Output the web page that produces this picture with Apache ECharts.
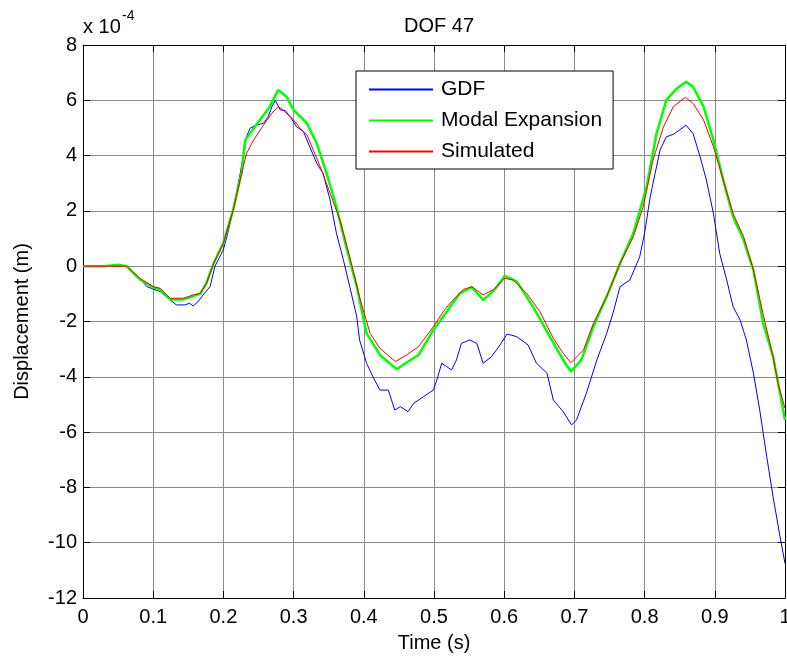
<!DOCTYPE html>
<html>
<head>
<meta charset="utf-8">
<script src="https://cdn.jsdelivr.net/npm/echarts@6/dist/echarts.min.js"></script>
<style>
  html, body { margin: 0; padding: 0; background: #fff; overflow: hidden; }
  #chart { width: 787px; height: 661px; }
</style>
</head>
<body>
<div id="chart"></div>
<script>
// Displacement of DOF 47 (units of 1e-4 m) against time (s)
const gdf = [
  [0, 0], [0.03, 0], [0.062, 0], [0.081, -0.44], [0.091, -0.74], [0.11, -0.92],
  [0.124, -1.22], [0.133, -1.4], [0.145, -1.4], [0.152, -1.34], [0.157, -1.44],
  [0.164, -1.28], [0.171, -1.04], [0.181, -0.74], [0.188, 0], [0.2, 0.6],
  [0.205, 1.07], [0.214, 2.03], [0.224, 3.36], [0.233, 4.68], [0.238, 4.99],
  [0.247, 5.1], [0.257, 5.17], [0.264, 5.41], [0.269, 5.77], [0.274, 5.99],
  [0.281, 5.65], [0.288, 5.63], [0.295, 5.41], [0.304, 5.05], [0.314, 4.87],
  [0.323, 4.32], [0.333, 3.72], [0.342, 3.36], [0.352, 2.39], [0.361, 1.19],
  [0.371, 0.22], [0.38, -0.74], [0.39, -1.83], [0.394, -2.67], [0.404, -3.51],
  [0.413, -4.0], [0.423, -4.48], [0.435, -4.48], [0.444, -5.2], [0.452, -5.08],
  [0.463, -5.26], [0.471, -4.96], [0.485, -4.72], [0.499, -4.48], [0.504, -4.12],
  [0.511, -3.51], [0.518, -3.63], [0.525, -3.75], [0.532, -3.39], [0.539, -2.79],
  [0.551, -2.67], [0.561, -2.79], [0.57, -3.51], [0.582, -3.27], [0.594, -2.85],
  [0.604, -2.45], [0.618, -2.55], [0.634, -2.85], [0.646, -3.51], [0.661, -3.87],
  [0.67, -4.84], [0.684, -5.26], [0.696, -5.74], [0.703, -5.56], [0.717, -4.6],
  [0.732, -3.39], [0.746, -2.43], [0.755, -1.7], [0.765, -0.74], [0.779, -0.5],
  [0.793, 0.34], [0.8, 1.2], [0.808, 2.51], [0.815, 3.36], [0.822, 4.2],
  [0.831, 4.68], [0.841, 4.77], [0.85, 4.93], [0.859, 5.1], [0.869, 4.8],
  [0.879, 3.96], [0.888, 3.12], [0.898, 1.91], [0.907, 0.46], [0.917, -0.5],
  [0.926, -1.46], [0.936, -1.94], [0.945, -2.67], [0.955, -3.87], [0.964, -5.2],
  [0.974, -6.89], [0.983, -8.34], [0.993, -9.79], [1.0, -10.75]
];

const modalExpansion = [
  [0, 0], [0.03, 0], [0.05, 0.05], [0.062, 0], [0.081, -0.48], [0.1, -0.76],
  [0.11, -0.85], [0.124, -1.2], [0.143, -1.2], [0.157, -1.08], [0.167, -1.0],
  [0.176, -0.6], [0.186, 0.1], [0.2, 0.85], [0.214, 2.05], [0.226, 3.4],
  [0.231, 4.56], [0.252, 5.29], [0.266, 5.77], [0.278, 6.37], [0.29, 6.13],
  [0.3, 5.65], [0.319, 5.17], [0.333, 4.44], [0.347, 3.36], [0.361, 2.15],
  [0.375, 0.7], [0.39, -0.74], [0.404, -2.43], [0.423, -3.21], [0.447, -3.73],
  [0.46, -3.5], [0.478, -3.21], [0.499, -2.31], [0.518, -1.65], [0.537, -0.98],
  [0.554, -0.76], [0.57, -1.22], [0.584, -0.92], [0.601, -0.35], [0.618, -0.56],
  [0.641, -1.46], [0.665, -2.55], [0.684, -3.39], [0.695, -3.81], [0.71, -3.39],
  [0.727, -2.19], [0.746, -1.1], [0.765, 0.1], [0.784, 1.19], [0.803, 2.88],
  [0.817, 4.8], [0.831, 6.01], [0.846, 6.43], [0.859, 6.67], [0.869, 6.49],
  [0.884, 5.77], [0.898, 4.56], [0.912, 3.12], [0.926, 1.79], [0.941, 0.95],
  [0.955, -0.14], [0.969, -2.07], [0.983, -3.27], [0.993, -4.6], [1.0, -5.56]
];

const simulated = [
  [0, 0], [0.03, 0], [0.062, 0], [0.081, -0.44], [0.1, -0.74], [0.11, -0.8],
  [0.124, -1.16], [0.143, -1.16], [0.157, -1.04], [0.167, -0.98], [0.176, -0.62],
  [0.186, 0.1], [0.2, 0.83], [0.214, 2.03], [0.226, 3.36], [0.233, 4.08],
  [0.243, 4.56], [0.257, 5.1], [0.269, 5.53], [0.278, 5.77], [0.285, 5.65],
  [0.3, 5.29], [0.309, 4.99], [0.319, 4.75], [0.328, 4.2], [0.338, 3.6],
  [0.352, 2.64], [0.366, 1.67], [0.38, 0.34], [0.395, -1.22], [0.409, -2.43],
  [0.423, -2.97], [0.445, -3.45], [0.461, -3.21], [0.478, -2.91], [0.499, -2.19],
  [0.513, -1.65], [0.527, -1.22], [0.542, -0.84], [0.554, -0.74], [0.57, -1.04],
  [0.584, -0.86], [0.601, -0.44], [0.613, -0.5], [0.632, -0.98], [0.651, -1.65],
  [0.67, -2.61], [0.684, -3.15], [0.695, -3.49], [0.713, -3.03], [0.727, -2.07],
  [0.746, -1.1], [0.765, 0.1], [0.784, 1.07], [0.798, 2.15], [0.812, 3.84],
  [0.827, 5.05], [0.841, 5.77], [0.858, 6.11], [0.869, 5.89], [0.884, 5.29],
  [0.898, 4.32], [0.912, 3.12], [0.926, 1.91], [0.941, 1.07], [0.955, -0.14],
  [0.969, -1.75], [0.983, -3.27], [0.99, -4.24], [1.0, -5.14]
];

const seriesNames = ['GDF', 'Modal Expansion', 'Simulated'];
const xTicks = [0, 0.1, 0.2, 0.3, 0.4, 0.5, 0.6, 0.7, 0.8, 0.9, 1];
const yTicks = [-12, -10, -8, -6, -4, -2, 0, 2, 4, 6, 8];

const FONT = 'Arial, "Liberation Sans", Helvetica, sans-serif';
const chart = echarts.init(document.getElementById('chart'), null, { renderer: 'canvas', width: 787, height: 661 });

const tickStyle = { show: true, inside: true, length: 7, lineStyle: { color: '#000', width: 1 } };
const lineAxis = { show: true, onZero: false, lineStyle: { color: '#000', width: 1 } };
const gridLines = { show: true, lineStyle: { color: '#8a8a8a', width: 1 } };

chart.setOption({
  animation: false,
  backgroundColor: '#fff',
  title: {
    text: 'DOF 47',
    left: 434, top: 11, textAlign: 'center',
    textStyle: { fontFamily: FONT, fontSize: 20, fontWeight: 'normal', color: '#000' }
  },
  grid: { left: 83, right: 2, top: 45, bottom: 63, containLabel: false, outerBoundsMode: 'none' },
  legend: {
    data: seriesNames,
    orient: 'vertical',
    left: 356, top: 71,
    padding: [8, 11, 7, 13],
    itemGap: 10,
    icon: 'rect',
    itemWidth: 64, itemHeight: 2,
    backgroundColor: '#fff',
    borderColor: '#000', borderWidth: 1,
    textStyle: { fontFamily: FONT, fontSize: 21, lineHeight: 21, color: '#000', padding: [0, 0, 0, 3] }
  },
  graphic: [
    { type: 'text', left: 83, top: 17,
      style: { text: 'x 10', font: '20px ' + FONT, fill: '#000' } },
    { type: 'text', left: 122, top: 9,
      style: { text: '-4', font: '14px ' + FONT, fill: '#000' } }
  ],
  xAxis: [
    {
      type: 'value', position: 'bottom', min: xTicks[0], max: xTicks[xTicks.length - 1], interval: 0.1,
      name: 'Time (s)', nameLocation: 'middle', nameGap: 35,
      nameTextStyle: { fontFamily: FONT, fontSize: 20, color: '#000' },
      axisLine: lineAxis, axisTick: tickStyle,
      axisLabel: { show: true, margin: 9, fontFamily: FONT, fontSize: 20, color: '#000',
        formatter: v => String(Math.round(v * 10) / 10) },
      splitLine: gridLines
    },
    {
      type: 'value', position: 'top', min: xTicks[0], max: xTicks[xTicks.length - 1], interval: 0.1,
      axisLine: lineAxis, axisTick: tickStyle, axisLabel: { show: false }, splitLine: { show: false }
    }
  ],
  yAxis: [
    {
      type: 'value', position: 'left', min: yTicks[0], max: yTicks[yTicks.length - 1], interval: 2,
      name: 'Displacement (m)', nameLocation: 'middle', nameGap: 51,
      nameTextStyle: { fontFamily: FONT, fontSize: 20, color: '#000' },
      axisLine: lineAxis, axisTick: tickStyle,
      axisLabel: { show: true, margin: 6, fontFamily: FONT, fontSize: 20, color: '#000' },
      splitLine: gridLines
    },
    {
      type: 'value', position: 'right', min: yTicks[0], max: yTicks[yTicks.length - 1], interval: 2,
      axisLine: lineAxis, axisTick: tickStyle, axisLabel: { show: false }, splitLine: { show: false }
    }
  ],
  series: [
    { name: seriesNames[0], type: 'line', data: gdf, symbol: 'none', z: 3,
      lineStyle: { color: '#0000ff', width: 1 }, itemStyle: { color: '#0000ff' } },
    { name: seriesNames[1], type: 'line', data: modalExpansion, symbol: 'none', z: 4,
      lineStyle: { color: '#00ff00', width: 2.5 }, itemStyle: { color: '#00ff00' } },
    { name: seriesNames[2], type: 'line', data: simulated, symbol: 'none', z: 5,
      lineStyle: { color: '#ff0000', width: 1 }, itemStyle: { color: '#ff0000' } }
  ]
});
</script>
</body>
</html>
